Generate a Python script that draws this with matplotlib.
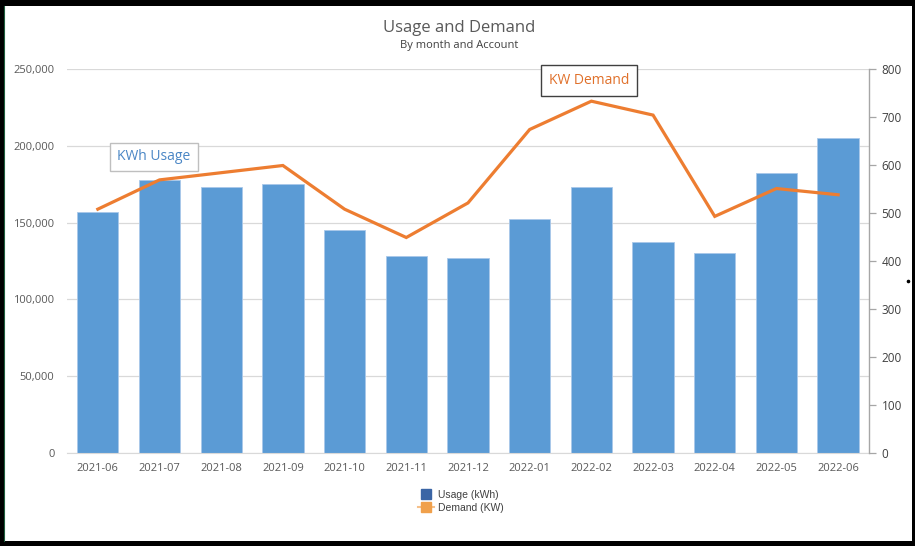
import numpy as np
import matplotlib.pyplot as plt
from matplotlib.lines import Line2D
from matplotlib.patches import Rectangle
from matplotlib.ticker import FuncFormatter, MultipleLocator

months = ['2021-06', '2021-07', '2021-08', '2021-09', '2021-10', '2021-11', '2021-12',
          '2022-01', '2022-02', '2022-03', '2022-04', '2022-05', '2022-06']
usage_kwh = [156700, 177700, 173400, 174900, 145000, 128000, 126700,
             152300, 173400, 137400, 130000, 182100, 205100]
demand_kw = [508, 569, 584, 599, 508, 449, 521, 674, 733, 704, 493, 551, 538]

bar_color = '#5b9bd5'
line_color = '#ed7d31'
grey_text = '#595959'

plt.rcParams['font.family'] = ['Open Sans', 'DejaVu Sans']

fig = plt.figure(figsize=(9.15, 5.46), dpi=100)
ax = fig.add_axes([0.0732, 0.1703, 0.8765, 0.7033])
ax2 = ax.twinx()

x = np.arange(len(months))
ax.bar(x, usage_kwh, width=0.67, color=bar_color, edgecolor='#a9c8ea',
       linewidth=0.6, zorder=2)
ax2.plot(x, demand_kw, color=line_color, linewidth=2.3, solid_joinstyle='miter',
         zorder=3)

ax.set_xlim(-0.5, len(months) - 0.5)
ax.set_ylim(0, 250000)
ax2.set_ylim(0, 800)
ax.yaxis.set_major_locator(MultipleLocator(50000))
ax.yaxis.set_major_formatter(FuncFormatter(lambda v, p: f'{int(v):,}'))
ax2.yaxis.set_major_locator(MultipleLocator(100))

ax.grid(axis='y', color='#d9d9d9', linewidth=0.9, zorder=0)
ax.set_axisbelow(True)
ax.set_xticks(x)
ax.set_xticklabels(months)
ax.tick_params(axis='x', length=0, pad=7, labelsize=8, labelcolor=grey_text)
ax.tick_params(axis='y', length=0, pad=9, labelsize=8, labelcolor=grey_text)
ax2.tick_params(axis='y', length=5, width=0.9, color='#a6a6a6', pad=4,
                labelsize=8.5, labelcolor='#404040')

for a in (ax, ax2):
    for s in ('top', 'left'):
        a.spines[s].set_visible(False)
ax.spines['right'].set_visible(False)
ax.spines['bottom'].set_color('#d9d9d9')
ax2.spines['bottom'].set_visible(False)
ax2.spines['right'].set_color('#a6a6a6')
ax2.spines['right'].set_linewidth(1.0)

# titles
fig.text(0.502, 0.948, 'Usage and Demand', ha='center', va='center',
         fontsize=12, color=grey_text)
fig.text(0.502, 0.916, 'By month and Account', ha='center', va='center',
         fontsize=8, color='#404040')

# series call-outs
ax.text(0.1085, 0.771, 'KWh Usage', transform=ax.transAxes, ha='center', va='center',
        fontsize=10, color='#4a86c5', zorder=5,
        bbox=dict(boxstyle='square,pad=0.5', fc='white', ec='#bfbfbf', lw=1.0))
ax.text(0.651, 0.970, 'KW Demand', transform=ax.transAxes, ha='center', va='center',
        fontsize=10, color='#e0702a', zorder=5,
        bbox=dict(boxstyle='square,pad=0.55', fc='white', ec='#404040', lw=1.0))

handles = [
    Line2D([], [], color='none', marker='s', markersize=7,
           markerfacecolor='#3a65a5', markeredgecolor='#3a65a5'),
    Line2D([], [], color='#f6c08a', linewidth=1.5, marker='s', markersize=7,
           markerfacecolor='#f0a04b', markeredgecolor='#f0a04b'),
]
fig.legend(handles, ['Usage (kWh)', 'Demand (KW)'], loc='center',
           bbox_to_anchor=(0.504, 0.082), ncol=1, frameon=False,
           handlelength=1.5, handletextpad=0.4, labelspacing=0.3,
           prop={'family': 'Liberation Sans', 'size': 7.5}, labelcolor='#404040')

# dark frame around the panel
for rx, ry, rw, rh in [(0, 0.989, 1, 0.011), (0, 0, 0.0044, 1),
                       (0, 0, 1, 0.009), (0.9967, 0, 0.0033, 1)]:
    fig.patches.append(Rectangle((rx, ry), rw, rh, transform=fig.transFigure,
                                 facecolor='black', edgecolor='none', zorder=10))
fig.add_artist(Line2D([0.0049, 0.0049], [0.009, 0.989], color='#1f5f3f',
                      linewidth=0.8, transform=fig.transFigure, zorder=11))
fig.add_artist(Line2D([0.992], [0.486], marker='o', markersize=1.6, color='black',
                      linestyle='none', transform=fig.transFigure, zorder=11))

fig.savefig('out.png', dpi=100)
